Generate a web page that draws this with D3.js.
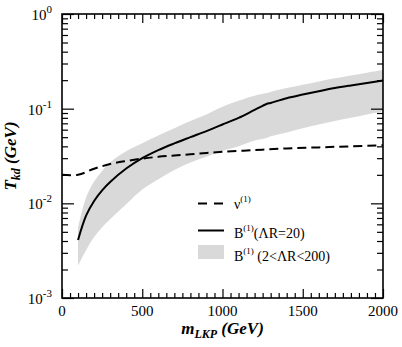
<!DOCTYPE html>
<html>
<head>
<meta charset="utf-8">
<script src="https://cdn.jsdelivr.net/npm/d3@7"></script>
<style>
  body { margin: 0; background: #fff; }
</style>
</head>
<body>
<svg id="chart"></svg>
<script>
// LKP mass grid (GeV) for the B(1) curves
const mass = [100, 150, 200, 250, 300, 400, 500, 600, 700, 800, 900, 1000, 1100, 1200, 1275, 1300, 1400, 1500, 1600, 1700, 1800, 1900, 2000]
// B(1), Lambda R = 20
const bSolid = [0.0041, 0.0074, 0.0106, 0.0137, 0.0168, 0.0233, 0.0300, 0.0365, 0.0430, 0.0500, 0.0580, 0.0680, 0.0800, 0.0970, 0.1120, 0.1150, 0.1290, 0.1410, 0.1530, 0.1650, 0.1760, 0.1870, 0.1980]
// B(1) band, 2 < Lambda R < 200
const bUpper = [0.0055, 0.0115, 0.0170, 0.0220, 0.0272, 0.0355, 0.0430, 0.0520, 0.0620, 0.0740, 0.0870, 0.1050, 0.1210, 0.1370, 0.1460, 0.1500, 0.1650, 0.1790, 0.1940, 0.2090, 0.2240, 0.2400, 0.2560]
const bLower = [0.0022, 0.0032, 0.0044, 0.0056, 0.0068, 0.0098, 0.0140, 0.0180, 0.0225, 0.0270, 0.0310, 0.0360, 0.0400, 0.0460, 0.0490, 0.0510, 0.0560, 0.0620, 0.0680, 0.0740, 0.0800, 0.0870, 0.0940]
// nu(1)
const nuMass = [0, 100, 200, 300, 400, 500, 600, 700, 800, 900, 1000, 1200, 1400, 1600, 1800, 2000]
const nuT = [0.0200, 0.0200, 0.0232, 0.0260, 0.0280, 0.0297, 0.0310, 0.0320, 0.0330, 0.0340, 0.0350, 0.0365, 0.0380, 0.0390, 0.0400, 0.0410]

const xMajor = [0, 500, 1000, 1500, 2000]
const yExps = [-3, -2, -1, 0]

const margin = { top: 14, right: 19, bottom: 49, left: 62 }
const W = 402, H = 347
const width = W - margin.left - margin.right
const height = H - margin.top - margin.bottom

const svg = d3.select('#chart').attr('width', W).attr('height', H)
	.attr('font-family', "'Liberation Serif', 'Times New Roman', 'DejaVu Serif', serif")
const g = svg.append('g').attr('transform', `translate(${margin.left}, ${margin.top})`)

const x = d3.scaleLinear().domain([0, 2000]).range([0, width])
const y = d3.scaleLog().domain([1e-3, 1]).range([height, 0])

const smooth = d3.curveCatmullRom.alpha(0.5)

// band
const band = mass.map((m, i) => ({ m, lo: bLower[i], hi: bUpper[i] }))
g.append('path')
	.datum(band)
	.attr('fill', '#d9d9d9')
	.attr('d', d3.area().x(d => x(d.m)).y0(d => y(d.lo)).y1(d => y(d.hi)).curve(smooth))

// solid B(1)
g.append('path')
	.datum(mass.map((m, i) => [m, bSolid[i]]))
	.attr('fill', 'none')
	.attr('stroke', '#000')
	.attr('stroke-width', 2)
	.attr('d', d3.line().x(d => x(d[0])).y(d => y(d[1])).curve(smooth))

// dashed nu(1)
g.append('path')
	.datum(nuMass.map((m, i) => [m, nuT[i]]))
	.attr('fill', 'none')
	.attr('stroke', '#000')
	.attr('stroke-width', 2)
	.attr('stroke-dasharray', '9,5')
	.attr('d', d3.line().x(d => x(d[0])).y(d => y(d[1])).curve(smooth))

// ticks (inward, all four sides)
const xMinor = d3.range(0, 2001, 50).filter(v => v % 500 !== 0)
const yMinor = []
yExps.slice(0, -1).forEach(e => { for (let k = 2; k <= 9; k++) yMinor.push(k * Math.pow(10, e)) })
const yMajor = yExps.map(e => Math.pow(10, e))

function tickAxis(axis, scale, values, size, tr) {
	const a = g.append('g').attr('transform', tr)
		.call(axis(scale).tickValues(values).tickSize(-size).tickFormat(''))
	a.select('.domain').remove()
	a.selectAll('line').attr('stroke', '#000').attr('stroke-width', 1.2)
}
tickAxis(d3.axisBottom, x, xMajor, 9, `translate(0, ${height})`)
tickAxis(d3.axisBottom, x, xMinor, 5, `translate(0, ${height})`)
tickAxis(d3.axisTop, x, xMajor, 9, 'translate(0, 0)')
tickAxis(d3.axisTop, x, xMinor, 5, 'translate(0, 0)')
tickAxis(d3.axisLeft, y, yMajor, 12, 'translate(0, 0)')
tickAxis(d3.axisLeft, y, yMinor, 6, 'translate(0, 0)')
tickAxis(d3.axisRight, y, yMajor, 12, `translate(${width}, 0)`)
tickAxis(d3.axisRight, y, yMinor, 6, `translate(${width}, 0)`)

// frame
g.append('rect')
	.attr('width', width).attr('height', height)
	.attr('fill', 'none').attr('stroke', '#000').attr('stroke-width', 1.6)

// x tick labels
g.selectAll('.xl').data(xMajor).enter().append('text')
	.attr('x', d => x(d)).attr('y', height + 18)
	.attr('text-anchor', 'middle')
	.attr('font-size', 15)
	.text(d => d)

// y tick labels 10^n
const yl = g.selectAll('.yl').data(yExps).enter().append('text')
	.attr('x', -10).attr('y', d => y(Math.pow(10, d)) + 6)
	.attr('text-anchor', 'end')
	.attr('font-size', 15)
yl.append('tspan').text('10')
yl.append('tspan').attr('dy', -7).attr('font-size', 11).text(d => d)

// axis titles
const xt = svg.append('text')
	.attr('x', margin.left + width / 2).attr('y', 334)
	.attr('text-anchor', 'middle')
	.attr('font-size', 17).attr('font-weight', 'bold').attr('font-style', 'italic')
xt.append('tspan').text('m')
xt.append('tspan').attr('dy', 4).attr('font-size', 12).text('LKP')
xt.append('tspan').attr('dy', -4).text(' (GeV)')

const yt = svg.append('text')
	.attr('transform', `translate(16, ${margin.top + height / 2}) rotate(-90)`)
	.attr('text-anchor', 'middle')
	.attr('font-size', 17).attr('font-weight', 'bold').attr('font-style', 'italic')
yt.append('tspan').text('T')
yt.append('tspan').attr('dy', 4).attr('font-size', 12).text('kd')
yt.append('tspan').attr('dy', -4).text(' (GeV)')

// legend
const lg = svg.append('g').attr('font-size', 14)
lg.append('line').attr('x1', 198).attr('x2', 224).attr('y1', 203.5).attr('y2', 203.5)
	.attr('stroke', '#000').attr('stroke-width', 2).attr('stroke-dasharray', '9,7')
lg.append('line').attr('x1', 198).attr('x2', 224).attr('y1', 230.5).attr('y2', 230.5)
	.attr('stroke', '#000').attr('stroke-width', 2)
lg.append('rect').attr('x', 198).attr('y', 245).attr('width', 26).attr('height', 14).attr('fill', '#d9d9d9')

const t1 = lg.append('text').attr('x', 234).attr('y', 209)
t1.append('tspan').text('\u03bd')
t1.append('tspan').attr('dy', -7).attr('font-size', 9).text('(1)')
const t2 = lg.append('text').attr('x', 234).attr('y', 238)
t2.append('tspan').text('B')
t2.append('tspan').attr('dy', -7).attr('font-size', 9).text('(1)')
t2.append('tspan').attr('dy', 7).text('(\u039bR=20)')
const t3 = lg.append('text').attr('x', 234).attr('y', 261)
t3.append('tspan').text('B')
t3.append('tspan').attr('dy', -7).attr('font-size', 9).text('(1)')
t3.append('tspan').attr('dy', 7).text(' (2<\u039bR<200)')
</script>
</body>
</html>
